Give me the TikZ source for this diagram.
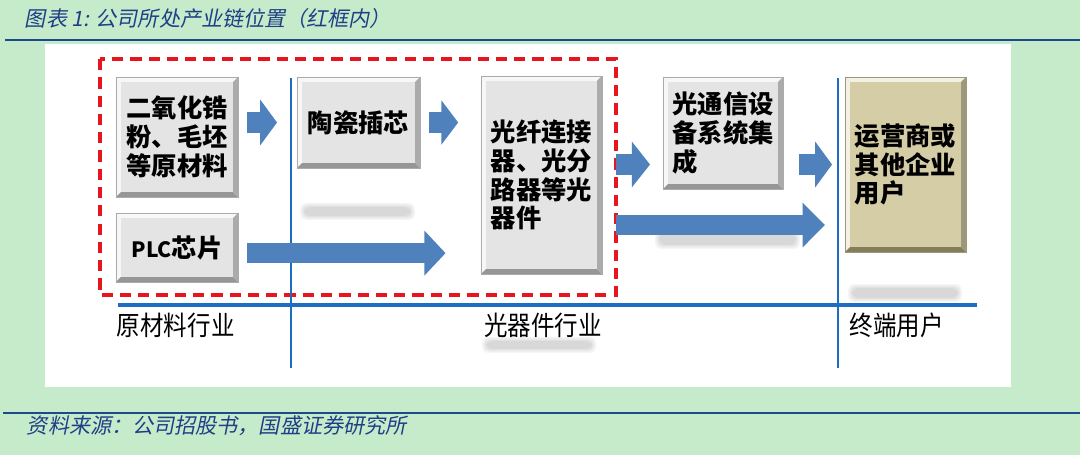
\documentclass[tikz,border=0pt]{standalone}
\usepackage{fontspec}
\setmainfont{Noto Sans CJK SC}
\newfontfamily\captionfont[FakeSlant=0.2]{Noto Sans CJK SC}
\newfontfamily\narrowfont[FakeStretch=0.88]{Noto Sans CJK SC}
\usepackage{tikz}
\usetikzlibrary{arrows.meta}
\usetikzlibrary{calc}

\definecolor{pagegreen}{HTML}{C6EBCB}
\definecolor{rulenavy}{HTML}{1A4C8B}
\definecolor{captionblue}{HTML}{1F3F86}
\definecolor{axisblue}{HTML}{1C6FC0}
\definecolor{arrowblue}{HTML}{4F81BD}
\definecolor{boxgray}{HTML}{E4E4E4}
\definecolor{edgegray}{HTML}{969696}
\definecolor{boxtan}{HTML}{D5CDA5}
\definecolor{edgetan}{HTML}{857D5A}
\definecolor{framered}{HTML}{E5161D}

\tikzset{
  bevel/.style 2 args={fill=#1, draw=#2!80, line width=0.4pt,
    path picture={
      \coordinate (bl) at (path picture bounding box.south west);
      \coordinate (tr) at (path picture bounding box.north east);
      \fill [white!70!#1] (bl) -- (bl |- tr) -- ++(3.5pt,-3.5pt) -- ($(bl)+(3.5pt,3.5pt)$) -- cycle;
      \fill [white!70!#1] (bl |- tr) -- (tr) -- ++(-3.5pt,-3.5pt) -- ($(bl |- tr)+(3.5pt,-3.5pt)$) -- cycle;
      \fill [#2] (bl) -- (bl -| tr) -- ++(-3.5pt,3.5pt) -- ($(bl)+(3.5pt,3.5pt)$) -- cycle;
      \fill [#2!80!white] (bl -| tr) -- (tr) -- ++(-3.5pt,-3.5pt) -- ($(bl -| tr)+(-3.5pt,3.5pt)$) -- cycle;
    }},
  stage/.style={bevel={boxgray}{edgegray}, align=left, inner sep=0pt,
    font=\bfseries\fontsize{18}{20.5}\selectfont},
  enduser/.style={stage, bevel={boxtan}{edgetan}},
  flow/.style={arrowblue, line width=15pt},
  sector/.style={font=\narrowfont\fontsize{19}{19}\selectfont}
}

\newcommand\softshade[4]{%
  \foreach \s in {0,...,3} {
    \fill [black, opacity=.04, rounded corners=4pt]
      ($(#1,#2)+(\s pt,-\s pt)$) rectangle ($(#3,#4)+(-\s pt,\s pt)$);
  }}

\begin{document}
\begin{tikzpicture}[x=0.025cm, y=-0.025cm]
% page
\fill [pagegreen] (0,0) rectangle (1080,455);
\useasboundingbox (0,0) rectangle (1080,455);
\node [anchor=west, text=captionblue, font=\captionfont\fontsize{15}{15}\selectfont] (title) at (20,18) {图表 1: 公司所处产业链位置（红框内）};
\draw [rulenavy, line width=2pt] (5,40) -- (1080,40);
\fill [white] (45,44) rectangle (1011,387);

% blurred shadows
\softshade{300}{203}{415}{220}
\softshade{655}{229}{800}{249}
\softshade{848}{284}{962}{302}
\softshade{482}{337}{596}{353}

% red frame
\draw [framered, line width=2.5pt, dash pattern=on 8pt off 5pt] (100,59) rectangle (616,295);

% sector lines
\draw [axisblue, line width=1.4pt] (291,78) -- (291,368);
\draw [axisblue, line width=1.4pt] (838,78) -- (838,368);
\draw [axisblue, line width=2.6pt] (118,305) -- (977,305);

% stages
\node [stage, minimum width=3.05cm, minimum height=3cm] (raw) at (177,137) {二氧化锆\\粉、毛坯\\等原材料};
\node [stage, minimum width=3.05cm, minimum height=1.725cm] (plc) at (177,247.5) {{\fontsize{15}{15}\selectfont PLC}芯片};
\node [stage, minimum width=3.075cm, minimum height=2.275cm] (ferrule) at (358.5,122.5) {陶瓷插芯};
\node [stage, minimum width=3.025cm, minimum height=4.95cm] (device) at (541.5,175) {光纤连接\\器、光分\\路器等光\\器件};
\node [stage, minimum width=3cm, minimum height=2.8cm] (system) at (723,133) {光通信设\\备系统集\\成};
\node [enduser, minimum width=3.025cm, minimum height=4.375cm] (user) at (905.5,164.5) {运营商或\\其他企业\\用户};

% flows
\draw [flow] [-{Triangle[length=12pt,width=32pt]}] ($(raw.east |- ferrule.west)+(6pt,0)$) -- ($(ferrule.west)-(14pt,0)$);
\draw [flow] [-{Triangle[length=12pt,width=31pt]}] ($(ferrule.east)+(6pt,0)$) -- ($(ferrule.east -| device.west)-(16pt,0)$);
\draw [flow, line width=14pt] [-{Triangle[length=15pt,width=31pt]}] ($(plc.east)+(6pt,-4pt)$) -- ($(plc.east -| device.west)+(-25pt,-4pt)$);
\draw [flow] [-{Triangle[length=13pt,width=32pt]}] ($(device.east |- user.west)+(10pt,0)$) -- ($(system.west |- user.west)-(9pt,0)$);
\draw [flow] [-{Triangle[length=12pt,width=32pt]}] ($(system.east |- user.west)+(11pt,0)$) -- ($(user.west)-(9pt,0)$);
\draw [flow, line width=14pt] [-{Triangle[length=16pt,width=31pt]}] ($(device.east)+(10pt,0)+(0,50)$) -- ($(user.west |- device.east)+(-14pt,0)+(0,50)$);

% sectors
\node [sector, anchor=west] (rawsector) at (112,325) {原材料行业};
\node [sector] (devsector) at (543,325) {光器件行业};
\node [sector, anchor=west] (usersector) at (845,325) {终端用户};

% footer
\draw [rulenavy, line width=2pt] (3,413) -- (1080,413);
\node [anchor=west, text=captionblue, font=\captionfont\fontsize{15}{15}\selectfont] (source) at (22,426) {资料来源：公司招股书，国盛证券研究所};
\end{tikzpicture}
\end{document}
